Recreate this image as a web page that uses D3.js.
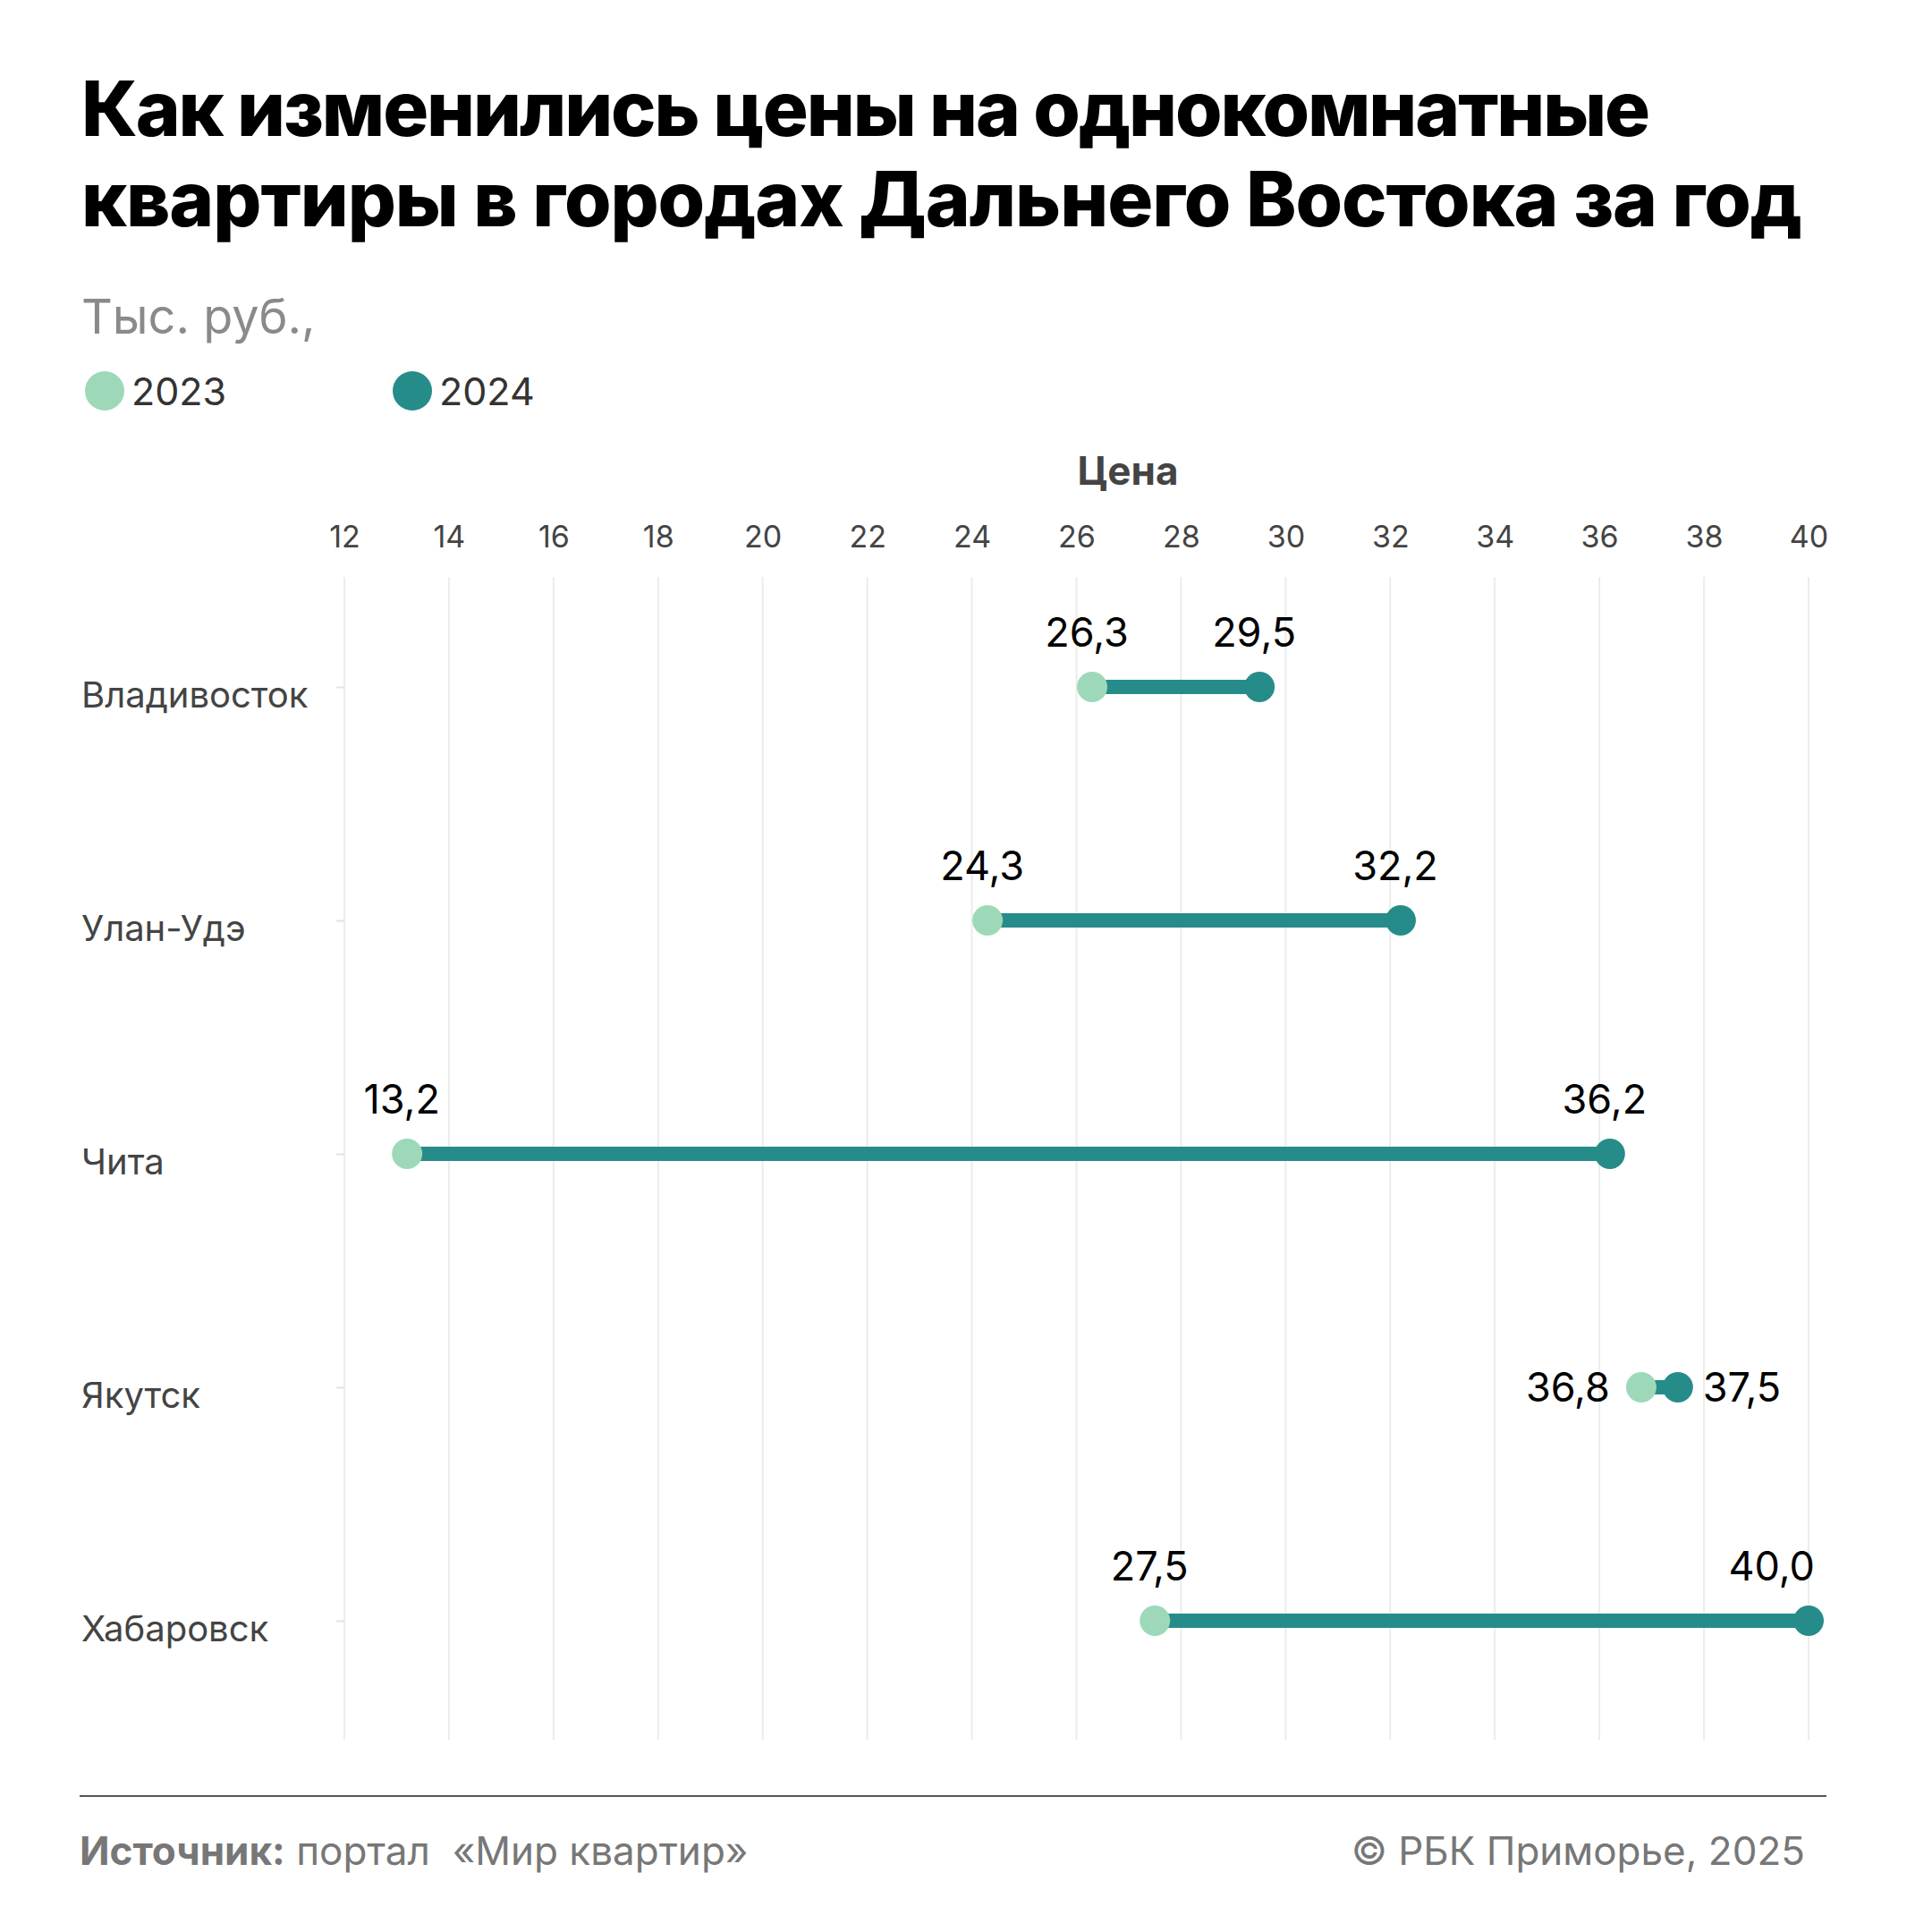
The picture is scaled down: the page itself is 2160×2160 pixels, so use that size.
<!DOCTYPE html>
<html>
<head>
<meta charset="utf-8">
<script src="https://cdn.jsdelivr.net/npm/d3@7/dist/d3.min.js"></script>
<style>
  html, body { margin: 0; padding: 0; background: #fff; }
  svg { display: block; }
  text { font-family: Inter, "Noto Sans", sans-serif; }
</style>
</head>
<body>
<svg id="chart" width="2160" height="2160"></svg>
<script>
const titleLines = ["Как изменились цены на однокомнатные", "квартиры в городах Дальнего Востока за год"];
const subtitle = "Тыс. руб.,";
const seriesNames = ["2023", "2024"];
const cities = ["Владивосток", "Улан-Удэ", "Чита", "Якутск", "Хабаровск"];
const values2023 = [26.3, 24.3, 13.2, 36.8, 27.5];
const values2024 = [29.5, 32.2, 36.2, 37.5, 40.0];
const xTicks = [12, 14, 16, 18, 20, 22, 24, 26, 28, 30, 32, 34, 36, 38, 40];
const axisTitle = "Цена";
const sourceBold = "Источник:";
const sourceText = " портал  «Мир квартир»";
const credit = "© РБК Приморье, 2025";

const colors = ["#9dd9b9", "#268c8a"];
const svg = d3.select("#chart");

// Title
const titleWidths = [1752, 1923];
const title = svg.append("g");
titleLines.forEach((t, i) => {
  title.append("text")
    .attr("x", 91).attr("y", 152 + i * 101)
    .attr("font-size", 82).attr("font-weight", 800)
    .attr("fill", "#000").attr("letter-spacing", -1)
    .text(t);
});
{
  const nodes = title.selectAll("text").nodes();
  const w = nodes[1].getComputedTextLength();
  const fs = 82 * 1923 / w;
  title.selectAll("text").attr("font-size", fs);
  nodes.forEach((n, i) => {
    const cur = n.getComputedTextLength();
    const chars = titleLines[i].length;
    const ls = -1 + (titleWidths[i] - cur) / chars;
    d3.select(n).attr("letter-spacing", ls);
  });
}

svg.append("text").attr("x", 91).attr("y", 373)
  .attr("font-size", 54).attr("fill", "#8a8a8a").text(subtitle);

// Legend
const legendX = [117, 461];
seriesNames.forEach((s, i) => {
  svg.append("circle").attr("cx", legendX[i]).attr("cy", 437).attr("r", 22).attr("fill", colors[i]);
  svg.append("text").attr("x", legendX[i] + 30).attr("y", 453)
    .attr("font-size", 43).attr("fill", "#333").text(s);
});

// Scales
const x = d3.scaleLinear().domain([12, 40]).range([385, 2022]);
const y = d3.scalePoint().domain(cities).range([768, 1812]);

// Axis title
svg.append("text").attr("x", 1261).attr("y", 542).attr("text-anchor", "middle")
  .attr("font-size", 44).attr("font-weight", 700).attr("fill", "#444").text(axisTitle);

// Top axis tick labels
const xAxis = d3.axisTop(x).tickValues(xTicks).tickSize(0).tickPadding(0).tickFormat(d3.format("d"));
const gx = svg.append("g").attr("transform", "translate(0,612)").call(xAxis);
gx.select(".domain").remove();
gx.selectAll("text").attr("font-family", "Inter, sans-serif").attr("font-size", 34).attr("fill", "#444").attr("dy", 0);

// Gridlines
svg.append("g").selectAll("line").data(xTicks).join("line")
  .attr("x1", d => x(d)).attr("x2", d => x(d))
  .attr("y1", 645).attr("y2", 1945)
  .attr("stroke", "#ececec").attr("stroke-width", 2);

// Y axis: small ticks + labels
const yAxis = d3.axisLeft(y).tickSize(9).tickPadding(0);
const gy = svg.append("g").attr("transform", "translate(385,0)").call(yAxis);
gy.select(".domain").remove();
gy.selectAll(".tick line").attr("stroke", "#e2e2e2").attr("stroke-width", 2);
gy.selectAll(".tick text").remove();
svg.append("g").selectAll("text").data(cities).join("text")
  .attr("x", 91).attr("y", d => y(d) + 23)
  .attr("font-size", 40).attr("fill", "#444").text(d => d);

// Data rows
const rows = cities.map((c, i) => ({ c, a: values2023[i], b: values2024[i] }));
const fmt = v => d3.format(".1f")(v).replace(".", ",");
const vfs = 45;

const g = svg.append("g");
g.selectAll("line.range").data(rows).join("line").attr("class", "range")
  .attr("x1", d => x(d.a)).attr("x2", d => x(d.b))
  .attr("y1", d => y(d.c)).attr("y2", d => y(d.c))
  .attr("stroke", colors[1]).attr("stroke-width", 16);
g.selectAll("circle.a").data(rows).join("circle").attr("class", "a")
  .attr("cx", d => x(d.a)).attr("cy", d => y(d.c)).attr("r", 17).attr("fill", colors[0]);
g.selectAll("circle.b").data(rows).join("circle").attr("class", "b")
  .attr("cx", d => x(d.b)).attr("cy", d => y(d.c)).attr("r", 17).attr("fill", colors[1]);

// Value labels
rows.forEach(d => {
  const close = Math.abs(x(d.b) - x(d.a)) < 80;
  if (close) {
    g.append("text").attr("x", x(d.a) - 35).attr("y", y(d.c) + 16)
      .attr("text-anchor", "end").attr("font-size", vfs).attr("fill", "#000").text(fmt(d.a));
    g.append("text").attr("x", x(d.b) + 28).attr("y", y(d.c) + 16)
      .attr("text-anchor", "start").attr("font-size", vfs).attr("fill", "#000").text(fmt(d.b));
  } else {
    [d.a, d.b].forEach(v => {
      const t = g.append("text").attr("x", x(v) - 6).attr("y", y(d.c) - 45)
        .attr("text-anchor", "middle").attr("font-size", vfs).attr("fill", "#000").text(fmt(v));
      const bb = t.node().getBBox();
      if (bb.x + bb.width > 2029) t.attr("x", x(v) - 6 - (bb.x + bb.width - 2029));
    });
  }
});

// Footer
svg.append("line").attr("x1", 89).attr("x2", 2042).attr("y1", 2008).attr("y2", 2008)
  .attr("stroke", "#555").attr("stroke-width", 2);
const src = svg.append("text").attr("x", 89).attr("y", 2085).attr("font-size", 44).attr("fill", "#777");
src.append("tspan").attr("font-weight", 700).text(sourceBold);
src.append("tspan").attr("xml:space", "preserve").style("white-space", "pre").text(sourceText);
svg.append("text").attr("x", 2018).attr("y", 2085).attr("text-anchor", "end")
  .attr("font-size", 44).attr("fill", "#777").text(credit);
</script>
</body>
</html>
